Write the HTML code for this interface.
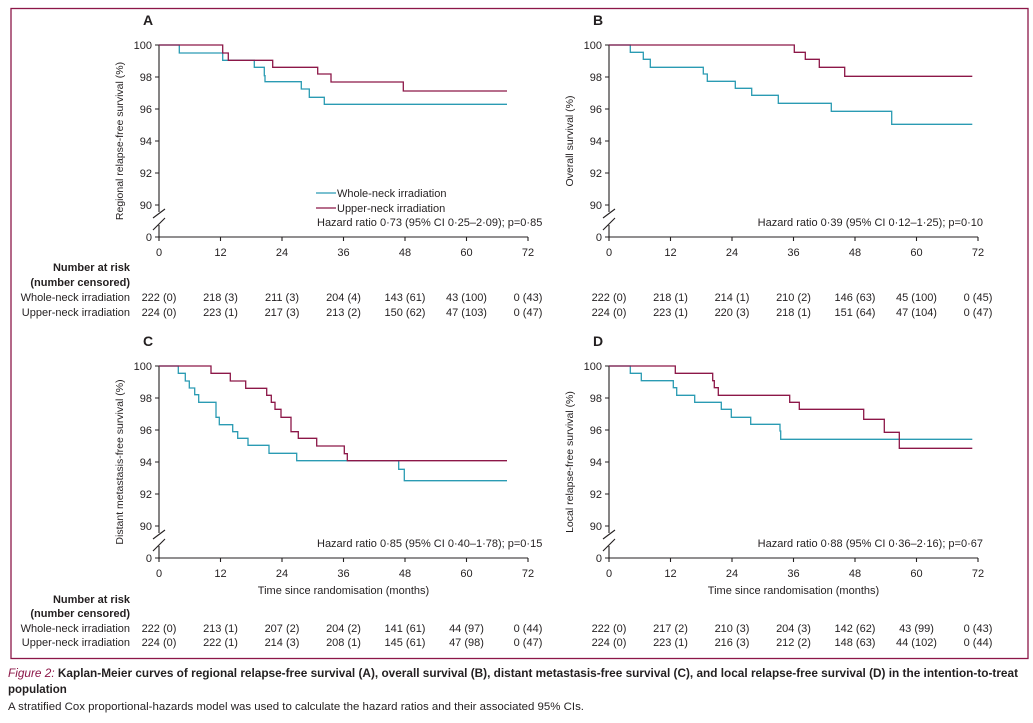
<!DOCTYPE html>
<html><head><meta charset="utf-8"><style>
html,body{margin:0;padding:0;background:#fff;}
svg{display:block;font-family:"Liberation Sans",sans-serif;}
text{fill:#231f20;font-size:11px;}
.b{font-weight:bold;}
.t{stroke:#2a9bb3;stroke-width:1.3;fill:none;}
.m{stroke:#8c1748;stroke-width:1.3;fill:none;}
.ax{stroke:#231f20;stroke-width:1.1;fill:none;}
</style></head><body>
<svg width="1033" height="723" viewBox="0 0 1033 723">
<rect x="11" y="8.5" width="1017" height="650" fill="none" stroke="#8c1748" stroke-width="1.3"/>
<defs>
<g id="axes">
<path class="ax" d="M159,45V212M159,225V237M155,45H159M155,77H159M155,109H159M155,141H159M155,173H159M155,205H159M155,237H159M153,218L165,209M153,230L165,218M159,237H528M159,237v4M220.5,237v4M282,237v4M343.5,237v4M405,237v4M466.5,237v4M528,237v4"/>
<g text-anchor="end"><text x="152" y="49">100</text><text x="152" y="81">98</text><text x="152" y="113">96</text><text x="152" y="145">94</text><text x="152" y="177">92</text><text x="152" y="209">90</text><text x="152" y="241">0</text></g>
<g text-anchor="middle"><text x="159" y="256">0</text><text x="220.5" y="256">12</text><text x="282" y="256">24</text><text x="343.5" y="256">36</text><text x="405" y="256">48</text><text x="466.5" y="256">60</text><text x="528" y="256">72</text></g>
</g>
</defs>
<use href="#axes"/>
<use href="#axes" transform="translate(450,0)"/>
<use href="#axes" transform="translate(0,321)"/>
<use href="#axes" transform="translate(450,321)"/>
<g style="font-size:14px;font-weight:bold"><text x="143" y="25" style="font-size:14px">A</text><text x="593" y="25" style="font-size:14px">B</text><text x="143" y="346" style="font-size:14px">C</text><text x="593" y="346" style="font-size:14px">D</text></g>
<g text-anchor="middle" style="font-size:10.5px">
<text transform="translate(123,141) rotate(-90)" style="font-size:10.5px">Regional relapse-free survival (%)</text>
<text transform="translate(573,141) rotate(-90)" style="font-size:10.5px">Overall survival (%)</text>
<text transform="translate(123,462) rotate(-90)" style="font-size:10.5px">Distant metastasis-free survival (%)</text>
<text transform="translate(573,462) rotate(-90)" style="font-size:10.5px">Local relapse-free survival (%)</text>
</g>
<!-- A -->
<path class="t" d="M159,45H179.3V53H222.7V60.3H254.3V67.3H264.3V75.7H265V81.7H301.3V89H309.3V97.3H324.3V104.3H507"/>
<path class="m" d="M159,45H222.7V53H228.3V60.3H272.7V67.3H317.7V74H331V82H403.3V91H507"/>
<path class="t" d="M316,193H336"/><path class="m" d="M316,208H336"/>
<text x="337" y="197">Whole-neck irradiation</text>
<text x="337" y="212">Upper-neck irradiation</text>
<text x="317" y="226">Hazard ratio 0·73 (95% CI 0·25–2·09); p=0·85</text>
<!-- B -->
<path class="t" d="M609,45H630.3V52.3H643.3V59.3H650.3V67.3H703.3V74H707.3V81.3H735.3V88.3H751.7V95.3H778.3V103.3H831.3V111.3H891.7V124.3H972.3"/>
<path class="m" d="M609,45H794.3V52.3H805.3V59.3H819.3V67.3H844.7V76.3H972.3"/>
<text x="983" y="226" text-anchor="end">Hazard ratio 0·39 (95% CI 0·12–1·25); p=0·10</text>
<!-- C -->
<path class="t" d="M159,366H178.3V373.3H185.3V381H189.3V388H194.7V394.7H198.7V402.3H216V417.3H219.3V424.7H232.7V431.7H237.7V438.3H248V445.3H269V453.3H296.7V460.7H398.7V469.3H404.3V480.7H507"/>
<path class="m" d="M159,366H211V373.3H230.3V381H245.7V388.3H266.7V395.3H271.3V402.3H275V409.3H281V417.3H291V431.7H298.3V438.3H316.7V446H344.3V453.7H347.3V460.7H507"/>
<text x="317" y="547">Hazard ratio 0·85 (95% CI 0·40–1·78); p=0·15</text>
<!-- D -->
<path class="t" d="M609,366H630.3V373.3H641.3V380.7H673.3V387.7H676.7V395.3H694.7V402.3H721.3V409.3H731.3V417.3H750.7V424.3H780V431H780.7V439.3H972.3"/>
<path class="m" d="M609,366H675.3V373.3H712.7V380.7H714.3V387.7H718.3V395.3H789.7V402.3H799.3V409.3H863.7V419.3H884.3V432.3H899.3V448.3H972.3"/>
<text x="983" y="547" text-anchor="end">Hazard ratio 0·88 (95% CI 0·36–2·16); p=0·67</text>
<text x="343.5" y="594" text-anchor="middle">Time since randomisation (months)</text>
<text x="793.5" y="594" text-anchor="middle">Time since randomisation (months)</text>
<!-- risk tables -->
<g text-anchor="end">
<text x="130" y="271" class="b">Number at risk</text><text x="130" y="286" class="b">(number censored)</text>
<text x="130" y="301">Whole-neck irradiation</text><text x="130" y="316">Upper-neck irradiation</text>
<text x="130" y="603" class="b">Number at risk</text><text x="130" y="617" class="b">(number censored)</text>
<text x="130" y="632">Whole-neck irradiation</text><text x="130" y="646">Upper-neck irradiation</text>
</g>
<g text-anchor="middle">
<text x="159" y="301">222 (0)</text><text x="220.5" y="301">218 (3)</text><text x="282" y="301">211 (3)</text><text x="343.5" y="301">204 (4)</text><text x="405" y="301">143 (61)</text><text x="466.5" y="301">43 (100)</text><text x="528" y="301">0 (43)</text>
<text x="159" y="316">224 (0)</text><text x="220.5" y="316">223 (1)</text><text x="282" y="316">217 (3)</text><text x="343.5" y="316">213 (2)</text><text x="405" y="316">150 (62)</text><text x="466.5" y="316">47 (103)</text><text x="528" y="316">0 (47)</text>
<text x="609" y="301">222 (0)</text><text x="670.5" y="301">218 (1)</text><text x="732" y="301">214 (1)</text><text x="793.5" y="301">210 (2)</text><text x="855" y="301">146 (63)</text><text x="916.5" y="301">45 (100)</text><text x="978" y="301">0 (45)</text>
<text x="609" y="316">224 (0)</text><text x="670.5" y="316">223 (1)</text><text x="732" y="316">220 (3)</text><text x="793.5" y="316">218 (1)</text><text x="855" y="316">151 (64)</text><text x="916.5" y="316">47 (104)</text><text x="978" y="316">0 (47)</text>
<text x="159" y="632">222 (0)</text><text x="220.5" y="632">213 (1)</text><text x="282" y="632">207 (2)</text><text x="343.5" y="632">204 (2)</text><text x="405" y="632">141 (61)</text><text x="466.5" y="632">44 (97)</text><text x="528" y="632">0 (44)</text>
<text x="159" y="646">224 (0)</text><text x="220.5" y="646">222 (1)</text><text x="282" y="646">214 (3)</text><text x="343.5" y="646">208 (1)</text><text x="405" y="646">145 (61)</text><text x="466.5" y="646">47 (98)</text><text x="528" y="646">0 (47)</text>
<text x="609" y="632">222 (0)</text><text x="670.5" y="632">217 (2)</text><text x="732" y="632">210 (3)</text><text x="793.5" y="632">204 (3)</text><text x="855" y="632">142 (62)</text><text x="916.5" y="632">43 (99)</text><text x="978" y="632">0 (43)</text>
<text x="609" y="646">224 (0)</text><text x="670.5" y="646">223 (1)</text><text x="732" y="646">216 (3)</text><text x="793.5" y="646">212 (2)</text><text x="855" y="646">148 (63)</text><text x="916.5" y="646">44 (102)</text><text x="978" y="646">0 (44)</text>
</g>
<!-- caption -->
<text x="8" y="677" textLength="1010" lengthAdjust="spacingAndGlyphs" style="font-size:11.5px"><tspan font-style="italic" fill="#8c1748">Figure 2:</tspan><tspan font-weight="bold"> Kaplan-Meier curves of regional relapse-free survival (A), overall survival (B), distant metastasis-free survival (C), and local relapse-free survival (D) in the intention-to-treat</tspan></text>
<text x="8" y="693" class="b" style="font-size:11.5px">population</text>
<text x="8" y="710" textLength="576" lengthAdjust="spacingAndGlyphs" style="font-size:11px">A stratified Cox proportional-hazards model was used to calculate the hazard ratios and their associated 95% CIs.</text>
</svg>
</body></html>
